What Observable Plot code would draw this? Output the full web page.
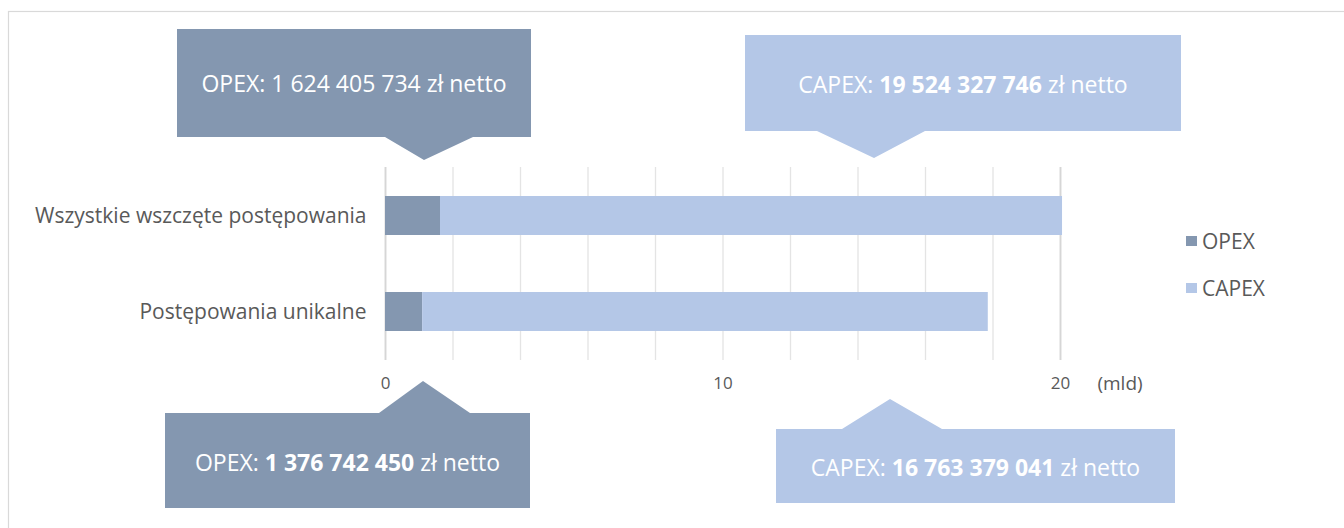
<!DOCTYPE html>
<html>
<head>
<meta charset="utf-8">
<script src="https://cdn.jsdelivr.net/npm/d3@7"></script>
<script src="https://cdn.jsdelivr.net/npm/@observablehq/plot@0.6"></script>
<style>
  html, body { margin: 0; padding: 0; background: #fff; }
  #chart { position: relative; width: 1344px; height: 528px; overflow: hidden; }
  svg { font-family: "Open Sans", sans-serif; }
</style>
</head>
<body>
<div id="chart"></div>
<script>
// ---- data ----
const categories = ["Wszystkie wszczęte postępowania", "Postępowania unikalne"];
const series = ["OPEX", "CAPEX"];
const opexValues = [1.63, 1.10];     // mld zł (as drawn)
const capexValues = [18.43, 16.76];  // mld zł (as drawn)
const axisTicks = [0, 10, 20];
const gridTicks = [0, 2, 4, 6, 8, 10, 12, 14, 16, 18, 20];
const unitLabel = "(mld)";
const seriesColors = ["#8497b0", "#b4c7e7"];

// callout texts: [prefix, bold number, suffix]
const calloutTexts = [
  ["OPEX: ", "", "1 624 405 734 zł netto"],
  ["CAPEX: ", "19 524 327 746", " zł netto"],
  ["OPEX: ", "1 376 742 450", " zł netto"],
  ["CAPEX: ", "16 763 379 041", " zł netto"]
];
const calloutSeries = ["OPEX", "CAPEX", "OPEX", "CAPEX"];

// ---- table for Plot ----
const rows = [];
categories.forEach((c, i) => {
  rows.push({category: c, series: "OPEX", value: opexValues[i]});
  rows.push({category: c, series: "CAPEX", value: capexValues[i]});
});

const W = 1344, H = 528;
const plot = Plot.plot({
  width: W,
  height: H,
  marginLeft: 385,
  marginRight: 284,
  marginTop: 167,
  marginBottom: 168,
  style: {background: "transparent", fontFamily: "Open Sans, sans-serif"},
  x: {domain: [0, 20]},
  y: {domain: categories, paddingInner: 0.596, paddingOuter: 0.298},
  color: {domain: series, range: seriesColors},
  marks: [
    Plot.gridX(gridTicks, {stroke: "#e4e4e4", strokeOpacity: 1, strokeWidth: 1.3}),
    Plot.ruleX([axisTicks[0], axisTicks[axisTicks.length - 1]], {stroke: "#d6d6d6", strokeWidth: 1.8}),
    Plot.barX(rows, Plot.stackX({x: "value", y: "category", fill: "series", order: series})),
    Plot.axisX({ticks: axisTicks, tickSize: 0, tickPadding: 16, fontSize: 17, color: "#595959", label: null}),
    Plot.axisY({tickSize: 0, tickPadding: 19, fontSize: 21, color: "#595959", label: null})
  ]
});

document.getElementById("chart").appendChild(plot);

const svg = d3.select(plot);
// outer frame
svg.insert("rect", ":first-child")
  .attr("x", 8.5).attr("y", 11.5).attr("width", W).attr("height", H)
  .attr("fill", "#fff").attr("stroke", "#d9d9d9").attr("stroke-width", 1.2);

// unit label
svg.append("text").attr("x", 1120).attr("y", 383).attr("text-anchor", "middle")
  .attr("dominant-baseline", "central").attr("font-size", 19).attr("fill", "#595959")
  .text(unitLabel);

// legend
const legendY = [241, 288];
series.forEach((s, i) => {
  svg.append("rect").attr("x", 1186).attr("y", legendY[i] - 5).attr("width", 11).attr("height", 10)
    .attr("fill", seriesColors[i]);
  svg.append("text").attr("x", 1202).attr("y", legendY[i]).attr("text-anchor", "start")
    .attr("dominant-baseline", "central")
    .attr("font-size", 21).attr("fill", "#595959").text(s);
});

// callouts (annotation shapes)
const calloutShapes = [
  {x0: 177, y0: 29, x1: 531, y1: 137, b0: 385, b1: 473, tx: 424, ty: 160, dir: "down", cy: 83},
  {x0: 745, y0: 35, x1: 1181, y1: 131, b0: 817, b1: 925, tx: 874, ty: 158, dir: "down", cy: 84},
  {x0: 165, y0: 413, x1: 530, y1: 508, b0: 379, b1: 470, tx: 423, ty: 381, dir: "up", cy: 462},
  {x0: 776, y0: 429, x1: 1175, y1: 503, b0: 842, b1: 942, tx: 890, ty: 399, dir: "up", cy: 467}
];
calloutShapes.forEach((c, i) => {
  let d;
  if (c.dir === "down") {
    d = `M${c.x0},${c.y0}H${c.x1}V${c.y1}H${c.b1}L${c.tx},${c.ty}L${c.b0},${c.y1}H${c.x0}Z`;
  } else {
    d = `M${c.x0},${c.y0}H${c.b0}L${c.tx},${c.ty}L${c.b1},${c.y0}H${c.x1}V${c.y1}H${c.x0}Z`;
  }
  const col = seriesColors[series.indexOf(calloutSeries[i])];
  svg.append("path").attr("d", d).attr("fill", col);
  const t = svg.append("text").attr("x", (c.x0 + c.x1) / 2).attr("y", c.cy)
    .attr("text-anchor", "middle").attr("dominant-baseline", "central")
    .attr("font-size", 23).attr("fill", "#fff");
  const [a, b, e] = calloutTexts[i];
  t.append("tspan").text(a);
  if (b) t.append("tspan").attr("font-weight", 700).text(b);
  t.append("tspan").text(e);
});
</script>
</body>
</html>
